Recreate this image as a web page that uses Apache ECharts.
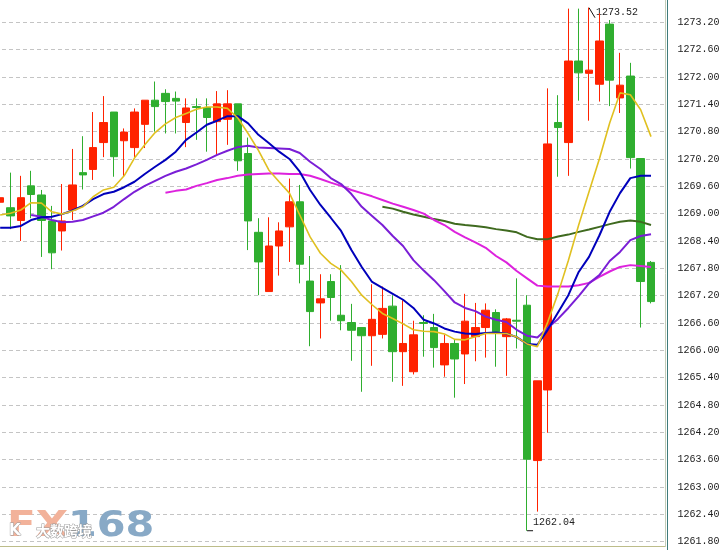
<!DOCTYPE html>
<html><head><meta charset="utf-8">
<script src="https://cdn.jsdelivr.net/npm/echarts@6/dist/echarts.min.js"></script>
<style>html,body{margin:0;padding:0;background:#fff}#c{width:724px;height:550px}</style>
</head><body><div id="c"></div><script>
// bar numbers (last slot empty, right margin of the chart)
const categories = ['1','2','3','4','5','6','7','8','9','10','11','12','13','14','15','16','17','18','19','20',
'21','22','23','24','25','26','27','28','29','30','31','32','33','34','35','36','37','38','39','40',
'41','42','43','44','45','46','47','48','49','50','51','52','53','54','55','56','57','58','59','60',
'61','62','63','64',''];

const opens = [1269.25,1269.13,1268.85,1269.61,1269.41,1268.84,1268.62,1269.08,1269.90,1269.97,
1270.56,1271.23,1270.60,1270.45,1270.96,1271.49,1271.64,1271.53,1271.00,1271.35,
1271.33,1271.02,1271.07,1271.41,1270.32,1268.59,1267.29,1268.29,1268.71,1269.26,
1267.52,1267.04,1267.51,1266.77,1266.61,1266.50,1266.32,1266.35,1266.97,1265.97,
1265.53,1266.61,1266.50,1265.68,1266.15,1265.92,1266.30,1266.50,1266.83,1266.30,
1266.66,1266.99,1263.58,1265.13,1271.00,1270.56,1272.35,1272.08,1271.84,1273.16,
1271.54,1272.02,1270.21,1267.93];

const closes = [1269.35,1268.95,1269.35,1269.42,1268.85,1268.14,1268.84,1269.63,1269.85,1270.45,
1271.00,1270.25,1270.79,1271.23,1271.49,1271.35,1271.46,1271.47,1271.32,1271.33,
1271.11,1271.41,1271.41,1270.16,1268.84,1267.94,1268.29,1268.62,1269.26,1267.89,
1266.85,1267.13,1267.16,1266.65,1266.44,1266.32,1266.68,1266.92,1265.97,1266.15,
1266.34,1266.59,1266.06,1266.15,1265.81,1266.64,1266.50,1266.88,1266.41,1266.69,
1266.64,1263.61,1265.33,1270.53,1270.89,1272.35,1272.09,1272.15,1272.79,1271.93,
1271.82,1270.23,1267.51,1267.07];

const lows = [1267.95,1268.66,1268.40,1268.90,1268.05,1267.78,1268.19,1268.86,1269.53,1269.74,
1270.24,1269.81,1269.81,1270.21,1270.44,1270.80,1270.76,1270.76,1270.46,1270.62,
1270.36,1270.29,1270.51,1269.94,1268.20,1267.21,1267.29,1267.64,1267.94,1267.47,
1266.09,1266.26,1266.65,1266.44,1265.77,1265.09,1265.66,1266.26,1265.31,1265.22,
1265.47,1265.86,1265.62,1265.42,1264.96,1265.26,1265.76,1265.84,1265.64,1265.44,
1266.04,1262.04,1262.46,1264.19,1269.81,1269.83,1271.48,1271.04,1271.46,1271.36,
1271.21,1269.99,1266.50,1267.03];

const highs = [1269.96,1269.90,1269.83,1269.94,1269.52,1269.17,1269.65,1270.42,1270.70,1271.23,
1271.58,1271.23,1270.87,1271.31,1271.49,1271.90,1271.73,1271.68,1271.53,1271.53,
1271.53,1271.69,1271.71,1271.41,1270.67,1268.90,1268.92,1268.81,1269.77,1269.63,
1268.07,1267.67,1267.67,1267.87,1267.02,1266.50,1267.45,1267.40,1267.21,1267.10,
1266.65,1266.77,1266.80,1266.34,1266.23,1267.24,1267.04,1267.03,1266.90,1266.71,
1267.58,1267.21,1265.33,1271.75,1271.60,1273.50,1273.50,1273.52,1273.40,1273.25,
1272.53,1272.31,1270.21,1267.96];

const maYellow = [1268.97,1269.01,1269.08,1269.24,1269.23,1269.04,1268.99,1269.06,1269.15,1269.37,
1269.52,1269.58,1269.83,1270.22,1270.51,1270.78,1270.97,1271.11,1271.20,1271.29,
1271.34,1271.34,1271.31,1271.10,1270.76,1270.39,1269.96,1269.70,1269.45,1268.97,
1268.49,1268.13,1267.91,1267.76,1267.51,1267.21,1267.00,1266.81,1266.70,1266.58,
1266.45,1266.42,1266.41,1266.36,1266.24,1266.23,1266.30,1266.37,1266.37,1266.37,
1266.29,1266.14,1266.08,1266.62,1267.25,1267.97,1268.75,1269.48,1270.20,1270.99,
1271.65,1271.61,1271.28,1270.69];

const maBlue = [1268.69,1268.69,1268.73,1268.86,1268.92,1268.93,1268.99,1269.07,1269.17,1269.32,
1269.43,1269.48,1269.58,1269.70,1269.87,1270.03,1270.18,1270.36,1270.62,1270.78,
1270.95,1271.04,1271.14,1271.14,1270.98,1270.73,1270.55,1270.36,1270.20,1269.92,
1269.52,1269.19,1268.91,1268.62,1268.20,1267.83,1267.50,1267.37,1267.24,1267.11,
1266.93,1266.67,1266.59,1266.48,1266.41,1266.37,1266.36,1266.38,1266.39,1266.37,
1266.29,1266.14,1266.12,1266.45,1266.83,1267.21,1267.72,1268.05,1268.52,1269.04,
1269.45,1269.78,1269.83,1269.83];

const maPurple = ['-','-','-',1268.97,1268.93,1268.86,1268.81,1268.82,1268.86,1268.94,
1269.02,1269.15,1269.32,1269.48,1269.61,1269.72,1269.83,1269.92,1269.99,1270.08,
1270.18,1270.29,1270.38,1270.46,1270.49,1270.45,1270.44,1270.43,1270.42,1270.33,
1270.14,1269.98,1269.78,1269.65,1269.43,1269.15,1268.95,1268.75,1268.51,1268.29,
1267.98,1267.75,1267.54,1267.30,1267.05,1266.93,1266.86,1266.74,1266.67,1266.62,
1266.45,1266.32,1266.28,1266.49,1266.69,1266.93,1267.19,1267.47,1267.65,1267.96,
1268.16,1268.42,1268.51,1268.55];

const maMagenta = ['-','-','-','-','-','-','-','-','-','-',
'-','-','-','-','-','-',1269.46,1269.50,1269.53,1269.61,
1269.67,1269.74,1269.78,1269.83,1269.86,1269.87,1269.88,1269.88,1269.87,1269.87,
1269.83,1269.76,1269.68,1269.61,1269.52,1269.45,1269.38,1269.30,1269.22,1269.15,
1269.08,1269.00,1268.86,1268.75,1268.60,1268.48,1268.37,1268.25,1268.07,1267.93,
1267.74,1267.58,1267.42,1267.40,1267.40,1267.40,1267.43,1267.48,1267.61,1267.73,
1267.83,1267.87,1267.85,1267.83];

const maDarkGreen = ['-','-','-','-','-','-','-','-','-','-',
'-','-','-','-','-','-','-','-','-','-',
'-','-','-','-','-','-','-','-','-','-',
'-','-','-','-','-','-','-',1269.15,1269.11,1269.04,
1268.98,1268.93,1268.88,1268.84,1268.78,1268.75,1268.73,1268.70,1268.66,1268.63,
1268.59,1268.49,1268.44,1268.44,1268.50,1268.54,1268.60,1268.65,1268.71,1268.77,
1268.82,1268.85,1268.82,1268.75];

const yMin = 1261.2, yMax = 1273.8, yStep = 0.6;

const UP = '#ff2200', DOWN = '#2fae2f';
const monoFont = '"Liberation Mono", "DejaVu Sans Mono", monospace';

const chart = echarts.init(document.getElementById('c'), null, {renderer: 'canvas'});

function lineSeries(name, data, color, width) {
  return {
    name, type: 'line', data, symbol: 'none', smooth: false,
    lineStyle: {color, width}, itemStyle: {color},
    silent: true, animation: false
  };
}

const option = {
  backgroundColor: '#ffffff',
  animation: false,
  grid: {left: -5, right: 57.5, top: -5.04, bottom: -19, containLabel: false, outerBoundsMode: 'none'},
  xAxis: {
    type: 'category', data: categories, boundaryGap: true,
    axisLine: {show: false}, axisTick: {show: false}, axisLabel: {show: false},
    splitLine: {show: false}
  },
  yAxis: {
    type: 'value', position: 'right', min: yMin, max: yMax, interval: yStep, scale: true,
    axisLine: {show: false}, axisTick: {show: false},
    axisLabel: {
      margin: 11, color: '#222', fontSize: 10, fontFamily: monoFont,
      formatter: v => v.toFixed(2)
    },
    splitLine: {show: true, lineStyle: {color: '#c4c4c4', type: [4, 3], width: 1}}
  },
  series: [
    {
      name: 'K', type: 'candlestick', barWidth: 8,
      data: opens.map((o, i) => [o, closes[i], lows[i], highs[i]]),
      itemStyle: {color: UP, color0: DOWN, borderColor: UP, borderColor0: DOWN, borderWidth: 1},
      animation: false
    },
    lineSeries('MA-dg', maDarkGreen, '#3f6a1f', 2),
    lineSeries('MA-mg', maMagenta, '#dd22dd', 2),
    lineSeries('MA-pu', maPurple, '#7a1ed6', 2),
    lineSeries('MA-bl', maBlue, '#0000bb', 2),
    lineSeries('MA-ye', maYellow, '#e0c020', 1.6)
  ]
};
chart.setOption(option);

const hiVal = Math.max(...highs), loVal = Math.min(...lows);
const hiIdx = highs.indexOf(hiVal), loIdx = lows.indexOf(loVal);
const pHi = chart.convertToPixel({gridIndex: 0}, [hiIdx, hiVal]);
const pLo = chart.convertToPixel({gridIndex: 0}, [loIdx, loVal]);

chart.setOption({
  graphic: [
    {type: 'line', shape: {x1: pHi[0], y1: pHi[1], x2: pHi[0] + 6, y2: pHi[1] + 10}, style: {stroke: '#111', lineWidth: 1}},
    {type: 'text', x: pHi[0] + 7, y: pHi[1] + 5, style: {text: hiVal.toFixed(2), font: '10px ' + monoFont, fill: '#222', verticalAlign: 'middle'}},
    {type: 'line', shape: {x1: pLo[0], y1: pLo[1], x2: pLo[0] + 6, y2: pLo[1]}, style: {stroke: '#111', lineWidth: 1}},
    {type: 'text', x: pLo[0] + 6, y: pLo[1] - 8, style: {text: loVal.toFixed(2), font: '10px ' + monoFont, fill: '#222', verticalAlign: 'middle'}},
    // frame lines
    {type: 'line', shape: {x1: 0, y1: 546.5, x2: 666, y2: 546.5}, style: {stroke: '#bdbd8a', lineWidth: 1}},
    {type: 'line', shape: {x1: 665.5, y1: 0, x2: 665.5, y2: 547}, style: {stroke: '#c2cdb8', lineWidth: 1}},
    {type: 'line', shape: {x1: 667.5, y1: 0, x2: 667.5, y2: 550}, style: {stroke: '#3e7b7b', lineWidth: 1}},
    // watermark
    {type: 'text', x: 7, y: 527, scaleX: 1.17, style: {text: 'FX', font: 'bold 36px "DejaVu Sans"', fill: '#f2b29a', verticalAlign: 'middle'}},
    {type: 'text', x: 68, y: 527, scaleX: 1.15, style: {text: '168', font: 'bold 36px "DejaVu Sans"', fill: '#88a9c6', verticalAlign: 'middle'}},
    {type: 'text', x: 9, y: 531, style: {text: 'K', font: 'bold 15px "DejaVu Sans"', fill: '#ffffff', stroke: '#9a9a9a', lineWidth: 1, verticalAlign: 'middle'}},
    {type: 'text', x: 36, y: 531, style: {text: '大数跨境', font: 'bold 14px "Noto Sans CJK SC"', fill: '#ffffff', stroke: '#9a9a9a', lineWidth: 1, verticalAlign: 'middle'}}
  ]
});
</script></body></html>
